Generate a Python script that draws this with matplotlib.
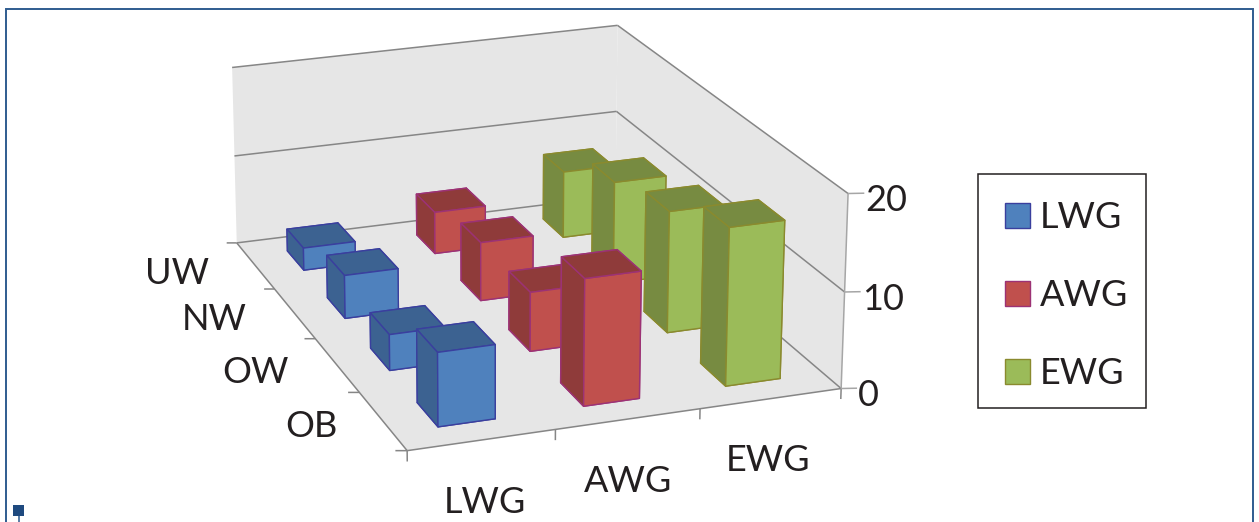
import numpy as np
import matplotlib
matplotlib.use("Agg")
import matplotlib.pyplot as plt
from matplotlib.patches import Patch, Rectangle
from mpl_toolkits.mplot3d.art3d import Poly3DCollection, Line3DCollection

plt.rcParams['font.family'] = ['Lato', 'DejaVu Sans']

# Chart values
series_names = ["LWG", "AWG", "EWG"]
group_names = ["UW", "NW", "OW", "OB"]
lwg_values = [2.5, 4.7, 3.8, 7.6]
awg_values = [4.7, 6.4, 6.3, 13.1]
ewg_values = [7.5, 11.2, 13.0, 16.4]
z_ticks = [0, 10, 20]

# Fill, shaded side and edge colours per series
front_colors = ["#4F81BD", "#C0504D", "#9BBB59"]
side_colors = ["#3C6291", "#8F3B3A", "#778B41"]
edge_colors = ["#3A3F9E", "#9C3275", "#8A8A2E"]

W, H = 1259, 522
WALL = "#E6E6E6"
GRID = "#868686"
TEXT = "#231F20"
FRAME = "#2F5C8F"
BAR_W = 0.39
BAR_D = 0.42

# Camera: pairs of (x, y, z) on the chart box and where they land in pixels
box_pts = [(0, 0, 0), (3, 0, 0), (0, 4, 0), (3, 4, 20), (0, 4, 20), (3, 0, 20),
           (3, 0, 10), (0, 4, 10), (3, 4, 10), (1, 0, 0), (2, 0, 0),
           (0, 1, 0), (0, 2, 0), (0, 3, 0)]
px_pts = [(407, 451), (841, 388), (236, 243), (617, 25), (232, 68), (848, 193),
          (845, 293), (235, 155), (617, 112), (555, 430), (700, 408),
          (360, 392), (315, 339), (275, 289)]


def fit_camera(box, px):
    # direct linear transform, z and pixels rescaled to keep it well conditioned
    rows = []
    for (x, y, z), (u, v) in zip(box, px):
        X = [x, y, z / 10, 1]
        u, v = u / 1000, v / 1000
        rows.append(X + [0, 0, 0, 0] + [-u * c for c in X])
        rows.append([0, 0, 0, 0] + X + [-v * c for c in X])
    p = np.linalg.svd(np.array(rows))[2][-1].reshape(3, 4)
    p = np.diag([1000, 1000, 1.0]) @ p @ np.diag([1, 1, 0.1, 1])
    return p / (p[2] @ [1.5, 2, 10, 1])


camera = fit_camera(box_pts, px_pts)

fig = plt.figure(figsize=(W / 100, H / 100), dpi=100)
# square axes wider than the figure is tall, so nothing gets clipped
ax = fig.add_axes([0, (H - W) / 2 / H, 1, W / H], projection="3d", computed_zorder=False)
ax.set_xticks([])
ax.set_yticks([])
ax.set_zticks([])
ax.set_axis_off()


def chart_proj():
    ax.apply_aspect()
    flip = np.array([[1, 0, 0], [0, -1, H], [0, 0, 1.0]])
    m = ax.transData.inverted().get_matrix() @ flip @ camera
    # depth grows towards the back right, and downwards
    depth = [0.4, 0.5, -0.02, 1]
    return np.array([m[0], m[1], depth, m[2]])


ax.get_proj = chart_proj


def add_lines(segments, color, lw=1.1):
    ax.add_collection3d(Line3DCollection(segments, colors=color, linewidths=lw, zorder=1))


def add_label(x, y, z, label, ha="center"):
    # labels go on the figure, at the spot the camera gives for the chart point
    u, v, w = camera @ [x, y, z, 1]
    fig.text(u / w / W, 1 - v / w / H, label, fontsize=26, color=TEXT, ha=ha, va="center")


# Walls and floor
walls = [
    [(0, 4, 0), (3, 4, 0), (3, 4, 20), (0, 4, 20)],
    [(3, 4, 0), (3, 0, 0), (3, 0, 20), (3, 4, 20)],
    [(0, 0, 0), (3, 0, 0), (3, 4, 0), (0, 4, 0)],
]
ax.add_collection3d(Poly3DCollection(walls, facecolors=WALL, edgecolors="none", zorder=0))

# Gridlines along the back and right walls, then the floor edges
grid = []
for z in z_ticks:
    grid.append([(0, 4, z), (3, 4, z)])
    grid.append([(3, 4, z), (3, 0, z)])
grid.append([(0, 0, 0), (3, 0, 0)])
grid.append([(0, 0, 0), (0, 4, 0)])
# tick marks under the front and left floor edges
for i in range(4):
    grid.append([(i, 0, 0), (i, 0, -1.1)])
for i in range(5):
    grid.append([(0, i, 0), (-0.07, i + 0.025, 0)])
add_lines(grid, GRID)

# Value axis on the front right corner
value_axis = [[(3, 0, 0), (3, 0, 20)]]
for z in z_ticks:
    value_axis.append([(3, 0, z), (3.1, -0.03, z)])
add_lines(value_axis, "#A6A6A6")

for z in z_ticks:
    add_label(3.11, -0.03, z - 0.8, str(z), ha="left")

# Bars, back to front and right to left so that near ones cover far ones
all_values = [lwg_values, awg_values, ewg_values]
order = 2
for s in [2, 1, 0]:
    for g in range(len(group_names)):
        x0 = s + 0.305
        y0 = 3 - g + 0.5 - BAR_D / 2
        face = [side_colors[s], side_colors[s], front_colors[s],
                side_colors[s], side_colors[s], side_colors[s]]
        ax.bar3d([x0], [y0], [0], BAR_W, BAR_D, all_values[s][g], color=face,
                 shade=False, edgecolor=edge_colors[s], linewidth=1.0, zorder=order)
        order += 1

# Category labels
group_label_x = [-0.58, -0.56, -0.55, -0.46]
group_label_y = [3.53, 2.57, 1.56, 0.57]
for g, name in enumerate(group_names):
    add_label(group_label_x[g], group_label_y[g], 0, name)
series_label_x = [0.2, 1.14, 2.08]
for s, name in enumerate(series_names):
    add_label(series_label_x[s], -0.9, 0, name)

# Legend
handles = [Patch(facecolor=front_colors[i], edgecolor=edge_colors[i], label=series_names[i])
           for i in range(3)]
fig.legend(handles=handles, loc="upper left",
           bbox_to_anchor=(978 / W, 1 - 174 / H), bbox_transform=fig.transFigure,
           fontsize=26, frameon=False,
           handlelength=0.69, handleheight=0.69, handletextpad=0.27,
           labelspacing=1.25, borderpad=0.75, borderaxespad=0, labelcolor=TEXT)
fig.add_artist(Rectangle((978 / W, 1 - 408 / H), 168 / W, 234 / H, fill=False,
                         edgecolor=TEXT, lw=1.1, transform=fig.transFigure))

# Outer frame and selection handle
fig.add_artist(Rectangle((6 / W, -0.1), (1253 - 6) / W, 1.1 - 9 / H,
                         fill=False, edgecolor=FRAME, lw=1.4, transform=fig.transFigure))
fig.add_artist(Rectangle((13 / W, 1 - 516 / H), 11 / W, 11 / H, facecolor="#1F4A7F",
                         edgecolor="none", transform=fig.transFigure))
fig.add_artist(Rectangle((17.5 / W, 0), 2 / W, 6 / H, facecolor="#5B7FA8",
                         edgecolor="none", transform=fig.transFigure))

fig.savefig("out.png", dpi=100)
